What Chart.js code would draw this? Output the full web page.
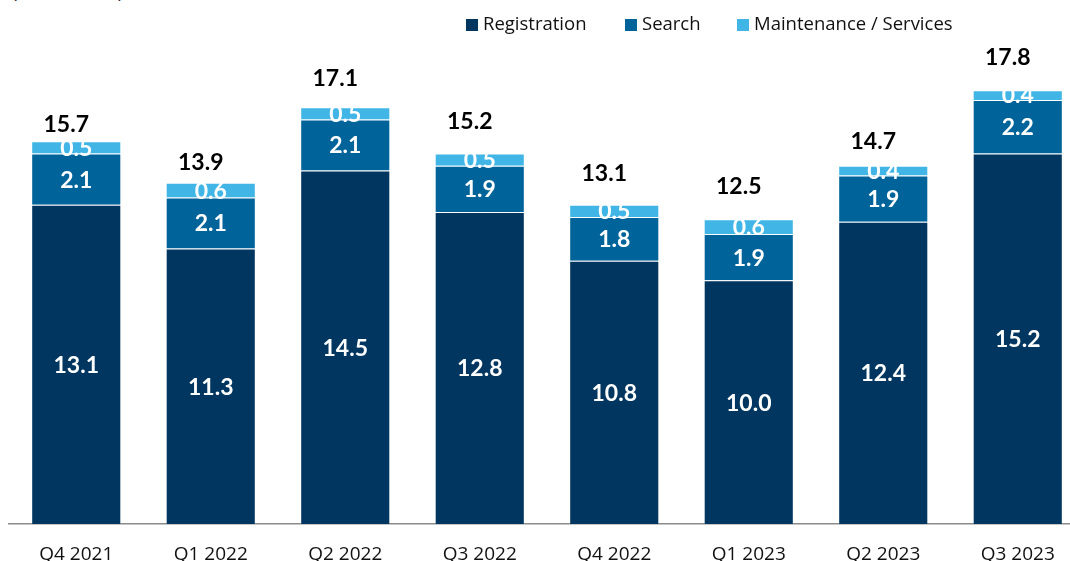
<!DOCTYPE html>
<html>
<head>
<meta charset="utf-8">
<script src="https://cdn.jsdelivr.net/npm/chart.js@4"></script>
<style>
  html, body { margin: 0; padding: 0; background: #fff; }
  body { width: 1070px; height: 561px; overflow: hidden; position: relative; font-family: "Open Sans", Lato, sans-serif; }
  #wrap { position: absolute; left: 0; top: 0; width: 1100px; height: 561px; }
  .unit { position: absolute; left: 12px; top: -21px; font-size: 18px; color: #222; }
  .leg { position: absolute; top: 10px; font-size: 18.5px; color: #111; white-space: nowrap; }
  .leg i { display: inline-block; width: 12px; height: 12px; margin-right: 5px; vertical-align: -1px; }
</style>
</head>
<body>
<div class="unit">(in $ millions)</div>
<div id="wrap"><canvas id="chart" width="1100" height="561"></canvas></div>
<div class="leg" style="left:466px"><i style="background:#00365f"></i>Registration</div>
<div class="leg" style="left:625px"><i style="background:#00639a"></i>Search</div>
<div class="leg" style="left:737px"><i style="background:#41b6e6"></i>Maintenance / Services</div>
<script>
const quarters = ["Q4 2021", "Q1 2022", "Q2 2022", "Q3 2022", "Q4 2022", "Q1 2023", "Q2 2023", "Q3 2023"];
const registration = [13.1, 11.3, 14.5, 12.8, 10.8, 10.0, 12.4, 15.2];
const search = [2.1, 2.1, 2.1, 1.9, 1.8, 1.9, 1.9, 2.2];
const maintenance = [0.5, 0.6, 0.5, 0.5, 0.5, 0.6, 0.4, 0.4];
const totals = [15.7, 13.9, 17.1, 15.2, 13.1, 12.5, 14.7, 17.8];

// how far each total sits above its bar (hand placed in the original)
const totalLift = [17, 20, 29, 32, 31, 33, 24, 33];

const colors = ["#00365f", "#00639a", "#41b6e6"];

// draws the white numbers inside segments and the black totals on top
const labelPlugin = {
  id: "labels",
  afterDatasetsDraw(chart) {
    const ctx = chart.ctx;
    ctx.save();
    ctx.textAlign = "center";
    ctx.textBaseline = "middle";
    ctx.font = "bold 23px Lato, 'Open Sans', sans-serif";
    ctx.fillStyle = "#fff";
    chart.data.datasets.forEach((ds, di) => {
      chart.getDatasetMeta(di).data.forEach((bar, i) => {
        const mid = (bar.y + bar.base) / 2;
        ctx.fillText(ds.data[i].toFixed(1), bar.x, mid + 1);
      });
    });
    ctx.fillStyle = "#000";
    const top = chart.getDatasetMeta(2).data;
    top.forEach((bar, i) => {
      ctx.fillText(totals[i].toFixed(1), bar.x - 10, bar.y - totalLift[i]);
    });
    ctx.restore();
  }
};

new Chart(document.getElementById("chart"), {
  type: "bar",
  data: {
    labels: quarters,
    datasets: [
      { label: "Registration", data: registration, backgroundColor: colors[0] },
      { label: "Search", data: search, backgroundColor: colors[1] },
      { label: "Maintenance / Services", data: maintenance, backgroundColor: colors[2] }
    ]
  },
  options: {
    responsive: false,
    animation: false,
    layout: { padding: { left: 9, right: 15, top: 0, bottom: 0 } },
    datasets: {
      bar: {
        barPercentage: 0.67,
        categoryPercentage: 1,
        borderWidth: 1,
        borderColor: "rgba(255,255,255,0.2)"
      }
    },
    plugins: {
      legend: { display: false },
      tooltip: { enabled: false }
    },
    scales: {
      x: {
        stacked: true,
        grid: { display: false, drawTicks: false },
        border: { display: true, color: "#8c8c8c", width: 1.5 },
        ticks: { color: "#111", font: { family: "'Open Sans', Lato, sans-serif", size: 19 }, padding: 19, maxRotation: 0 },
        afterFit(scale) { scale.height = 37; }
      },
      y: {
        stacked: true,
        display: false,
        min: 0,
        max: 21.5
      }
    }
  },
  plugins: [labelPlugin]
});
</script>
</body>
</html>
